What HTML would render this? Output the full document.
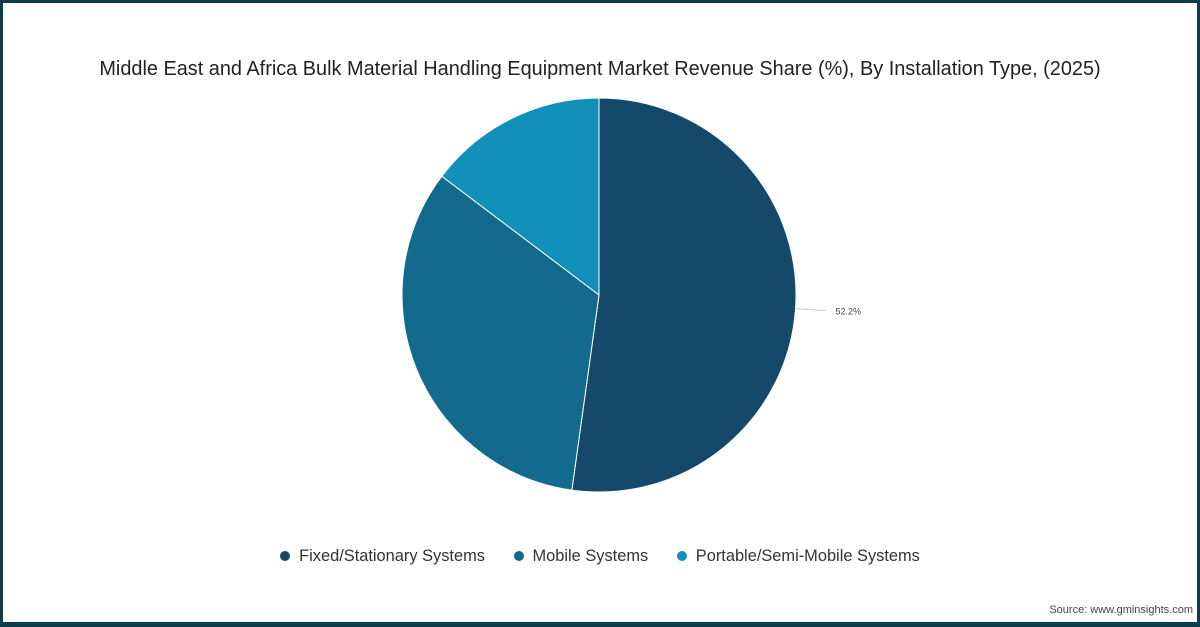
<!DOCTYPE html>
<html><head><meta charset="utf-8"><style>
html,body{margin:0;padding:0;}
body{width:1200px;height:627px;position:relative;overflow:hidden;background:#0d3d4a;font-family:"Liberation Sans",sans-serif;}
#frame{position:absolute;left:3px;top:3px;width:1194px;height:619px;background:#fff;}
#title{position:absolute;left:0;top:58px;width:1200px;text-align:center;font-size:19.9px;color:#222;}
#legend{position:absolute;top:547px;left:0;width:1200px;text-align:center;font-size:16.4px;color:#333;}
.li{display:inline-block;margin:0 12px;}
.dot{display:inline-block;width:10px;height:10px;border-radius:50%;margin-right:9px;vertical-align:0px;}
#source{position:absolute;right:7px;top:604px;font-size:11px;color:#444;}
</style></head><body>
<div id="frame"></div>
<div id="title">Middle East and Africa Bulk Material Handling Equipment Market Revenue Share (%), By Installation Type, (2025)</div>
<svg id="pie" width="1200" height="627" style="position:absolute;left:0;top:0"></svg>
<div id="legend">
<span class="li"><span class="dot" style="background:#15496b"></span>Fixed/Stationary Systems</span>
<span class="li"><span class="dot" style="background:#126b8d"></span>Mobile Systems</span>
<span class="li"><span class="dot" style="background:#1190b9"></span>Portable/Semi-Mobile Systems</span>
</div>
<div id="source">Source: www.gminsights.com</div>
<script>
const categories=["Fixed/Stationary Systems","Mobile Systems","Portable/Semi-Mobile Systems"];
const values=[52.2,33.1,14.7];
const labels=["52.2%","",""];
const colors=["#15496b","#126b8d","#1190b9"];
const cx=599,cy=295,r=197;
const svg=document.getElementById('pie');
const NS="http://www.w3.org/2000/svg";
const total=values.reduce((a,b)=>a+b,0);
function pt(a,rr){return [cx+rr*Math.sin(a),cy-rr*Math.cos(a)];}
let start=0;
values.forEach((v,i)=>{
  const ang=v/total*2*Math.PI,end=start+ang;
  const [x1,y1]=pt(start,r),[x2,y2]=pt(end,r);
  const p=document.createElementNS(NS,'path');
  p.setAttribute('d',`M${cx},${cy}L${x1},${y1}A${r},${r} 0 ${ang>Math.PI?1:0} 1 ${x2},${y2}Z`);
  p.setAttribute('fill',colors[i]);p.setAttribute('stroke','#fff');p.setAttribute('stroke-width','1');
  
  
  svg.appendChild(p);
  if(labels[i]){
    const mid=start+ang/2;
    const [lx1,ly1]=pt(mid,r),[lx2,ly2]=pt(mid,r+30);
    const l=document.createElementNS(NS,'line');
    l.setAttribute('x1',lx1);l.setAttribute('y1',ly1);l.setAttribute('x2',lx2);l.setAttribute('y2',ly2);
    l.setAttribute('stroke','#ccc');
    
    
    svg.appendChild(l);
    const t=document.createElementNS(NS,'text');
    t.setAttribute('x',lx2+10);t.setAttribute('y',ly2+4);t.setAttribute('font-size','9');t.setAttribute('fill','#444');
    t.setAttribute('font-family','Liberation Sans, sans-serif');
    t.textContent=labels[i];
    
    
    svg.appendChild(t);
  }
  start=end;
});
</script>
</body></html>
